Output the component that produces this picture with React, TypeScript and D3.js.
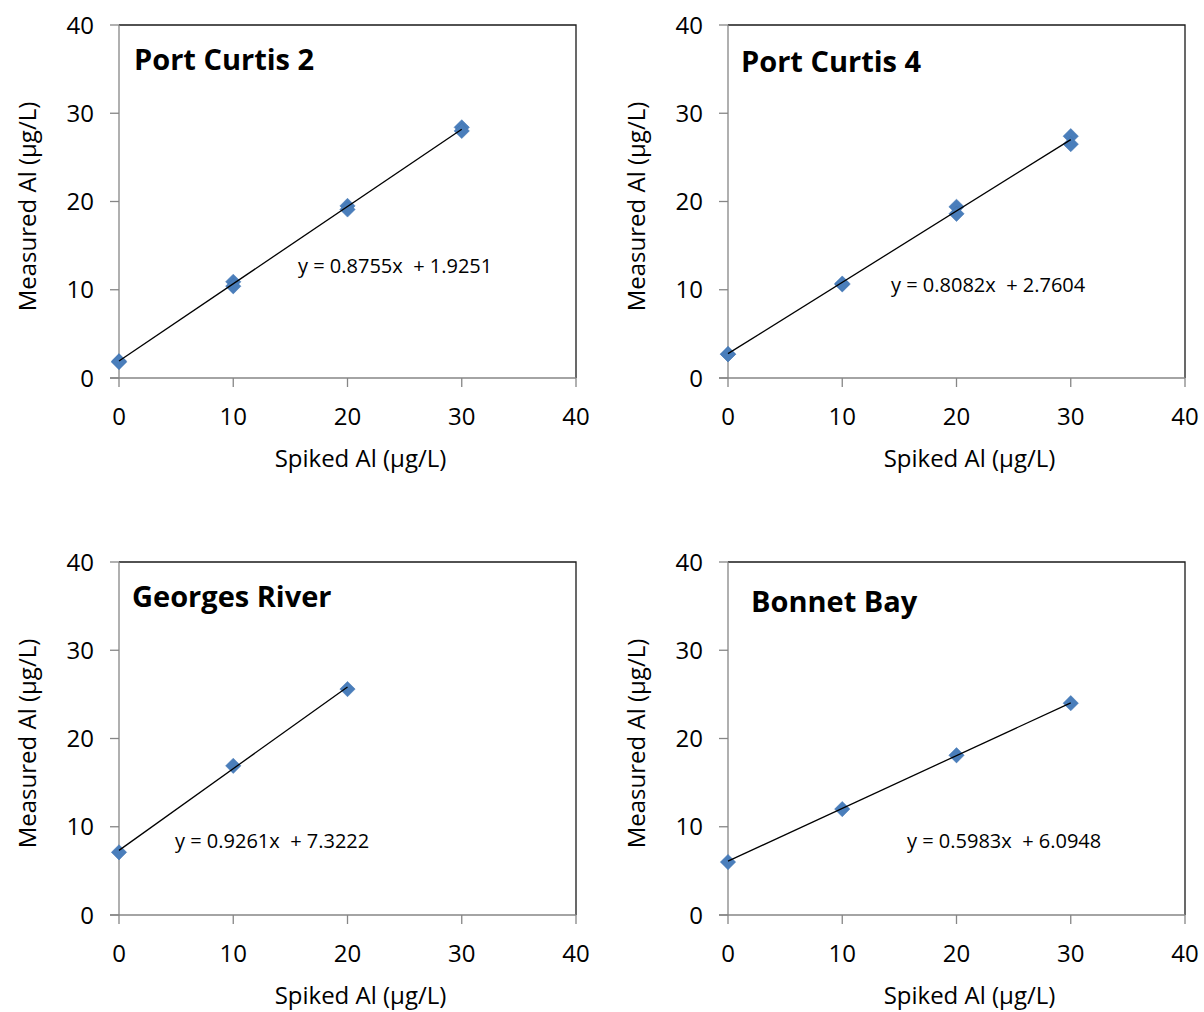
import React from "react";
import * as d3 from "d3";

const panelNames = ["Port Curtis 2", "Port Curtis 4", "Georges River", "Bonnet Bay"];
const spiked1 = [0, 0, 10, 10, 20, 20, 30, 30];
const measured1 = [1.9, 1.8, 10.9, 10.4, 19.5, 19.1, 28.4, 28.0];
const spiked2 = [0, 0, 10, 10, 20, 20, 30, 30];
const measured2 = [2.7, 2.7, 10.6, 10.7, 19.4, 18.6, 27.4, 26.5];
const spiked3 = [0, 10, 20];
const measured3 = [7.1, 16.9, 25.6];
const spiked4 = [0, 10, 20, 30];
const measured4 = [6.0, 12.0, 18.1, 24.0];
const slopes = [0.8755, 0.8082, 0.9261, 0.5983];
const intercepts = [1.9251, 2.7604, 7.3222, 6.0948];
const equations = ["y = 0.8755x  + 1.9251", "y = 0.8082x  + 2.7604", "y = 0.9261x  + 7.3222", "y = 0.5983x  + 6.0948"];
const tickValues = [0, 10, 20, 30, 40];
const xTitle = "Spiked Al (µg/L)";
const yTitle = "Measured Al (µg/L)";

const spikedAll = [spiked1, spiked2, spiked3, spiked4];
const measuredAll = [measured1, measured2, measured3, measured4];

// layout
const panelPos = [
  { left: 119, top: 25 },
  { left: 728, top: 25 },
  { left: 119, top: 562 },
  { left: 728, top: 562 },
];
const titleOffset = [
  { dx: 15, dy: 45 },
  { dx: 13, dy: 47 },
  { dx: 13, dy: 45 },
  { dx: 23, dy: 50 },
];
const eqOffset = [
  { dx: 179, dy: 248 },
  { dx: 163, dy: 267 },
  { dx: 56, dy: 286 },
  { dx: 179, dy: 286 },
];
const PW = 457;
const PH = 353;
const FONT = "'Open Sans', sans-serif";

function Panel({ i }: { i: number }) {
  const { left, top } = panelPos[i];
  const x = d3.scaleLinear().domain([0, 40]).range([left, left + PW]);
  const y = d3.scaleLinear().domain([0, 40]).range([top + PH, top]);
  const xs = spikedAll[i];
  const ys = measuredAll[i];
  const xMin = d3.min(xs) as number;
  const xMax = d3.max(xs) as number;
  const line = d3
    .line<number>()
    .x((d) => x(d))
    .y((d) => y(slopes[i] * d + intercepts[i]));
  const diamond = d3.symbol().type(d3.symbolDiamond2).size(150)();
  const axisColor = "#868686";
  return (
    <g>
      <path
        d={`M${x(0)},${y(40)} H${x(40)} V${y(0)}`}
        fill="none"
        stroke="#1a1a1a"
        strokeWidth={1.3}
      />
      <line x1={x(0)} x2={x(0)} y1={y(0)} y2={y(40)} stroke={axisColor} strokeWidth={1.3} />
      <line x1={x(0) - 9} x2={x(40)} y1={y(0)} y2={y(0)} stroke={axisColor} strokeWidth={1.3} />
      {tickValues.map((t) => (
        <g key={"yt" + t}>
          <line x1={x(0) - 9} x2={x(0)} y1={y(t)} y2={y(t)} stroke={axisColor} strokeWidth={1.3} />
          <text
            x={x(0) - 25}
            y={y(t)}
            dy="0.36em"
            textAnchor="end"
            fontSize={24}
            fontFamily={FONT}
            fill="#000"
          >
            {t}
          </text>
        </g>
      ))}
      {tickValues.map((t) => (
        <g key={"xt" + t}>
          <line x1={x(t)} x2={x(t)} y1={y(0)} y2={y(0) + 9} stroke={axisColor} strokeWidth={1.3} />
          <text
            x={x(t)}
            y={y(0) + 47}
            textAnchor="middle"
            fontSize={24}
            fontFamily={FONT}
            fill="#000"
          >
            {t}
          </text>
        </g>
      ))}
      <text
        x={x(20) + 13}
        y={y(0) + 89}
        textAnchor="middle"
        fontSize={24}
        fontFamily={FONT}
        fill="#000"
      >
        {xTitle}
      </text>
      <text
        transform={`translate(${x(0) - 83},${y(20) + 5}) rotate(-90)`}
        textAnchor="middle"
        fontSize={24}
        fontFamily={FONT}
        fill="#000"
      >
        {yTitle}
      </text>
      {xs.map((d, k) => (
        <path
          key={"m" + k}
          d={diamond as string}
          transform={`translate(${x(d)},${y(ys[k])})`}
          fill="#4a7ebb"
          stroke="#3f72b0"
          strokeWidth={0.5}
        />
      ))}
      <path d={line([xMin, xMax]) as string} fill="none" stroke="#000" strokeWidth={1.3} />
      <text
        x={left + titleOffset[i].dx}
        y={top + titleOffset[i].dy}
        fontSize={29}
        fontWeight="bold"
        fontFamily={FONT}
        fill="#000"
      >
        {panelNames[i]}
      </text>
      <text
        x={left + eqOffset[i].dx}
        y={top + eqOffset[i].dy}
        fontSize={20}
        fontFamily={FONT}
        fill="#000"
        style={{ whiteSpace: "pre" }}
      >
        {equations[i]}
      </text>
    </g>
  );
}

export default function App() {
  return (
    <svg
      width={1204}
      height={1012}
      style={{ position: "absolute", left: 0, top: 0, background: "#fff" }}
    >
      <rect width={1204} height={1012} fill="#fff" />
      {panelNames.map((_, i) => (
        <Panel key={i} i={i} />
      ))}
    </svg>
  );
}
